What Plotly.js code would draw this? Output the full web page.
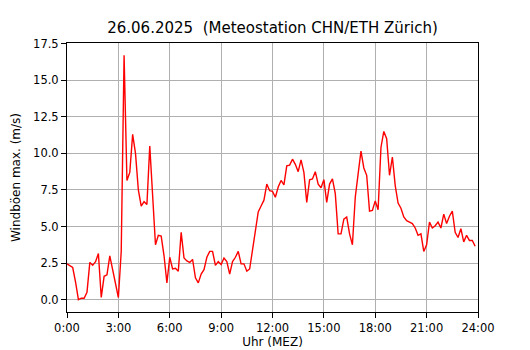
<!DOCTYPE html>
<html>
<head>
<meta charset="utf-8">
<script src="https://cdn.plot.ly/plotly-3.0.1.min.js"></script>
<style>html,body{margin:0;padding:0;background:#fff;}#chart{width:530px;height:350px;}</style>
</head>
<body>
<div id="chart"></div>
<script>
// 10-minute wind gust maxima (m/s), 00:00 .. 23:50
const gustValues = [
  2.45, 2.3, 2.2, 1.2, 0.0, 0.1, 0.1, 0.5, 2.55, 2.35, 2.6, 3.15,
  0.15, 1.6, 1.7, 3.0, 2.0, 0.9, 0.15, 3.3, 16.7, 8.15, 8.7, 11.3,
  10.0, 7.5, 6.4, 6.7, 6.5, 10.5, 7.0, 3.75, 4.4, 4.35, 3.0, 1.15,
  2.9, 2.1, 2.15, 1.95, 4.6, 2.85, 2.65, 2.55, 2.75, 1.5, 1.15, 1.75,
  2.05, 2.9, 3.3, 3.3, 2.35, 2.6, 2.4, 2.85, 2.6, 1.75, 2.6, 2.9,
  3.3, 2.45, 2.45, 1.95, 2.1, 3.4, 4.9, 6.0, 6.4, 6.8, 7.9, 7.45,
  7.4, 7.0, 7.7, 8.15, 7.85, 9.15, 9.2, 9.6, 9.25, 8.75, 9.55, 8.7,
  6.65, 8.2, 8.25, 8.75, 7.9, 7.65, 8.2, 6.65, 7.9, 8.25, 7.25, 4.5,
  4.5, 5.5, 5.65, 4.5, 3.75, 7.0, 8.6, 10.15, 9.0, 8.5, 6.05, 6.1,
  6.75, 6.15, 10.4, 11.5, 11.0, 8.5, 9.75, 7.8, 6.6, 6.25, 5.65, 5.4,
  5.3, 5.2, 4.9, 4.4, 4.5, 3.3, 3.75, 5.3, 4.9, 5.05, 5.3, 4.9,
  5.85, 5.2, 5.7, 6.05, 4.6, 4.25, 4.85, 3.95, 4.4, 4.05, 4.05, 3.65
];
const sampleMinutes = 10;
const xTickVals = [0, 3, 6, 9, 12, 15, 18, 21, 24];
const xTickText = ["0:00", "3:00", "6:00", "9:00", "12:00", "15:00", "18:00", "21:00", "24:00"];
const yTickVals = [0, 2.5, 5, 7.5, 10, 12.5, 15, 17.5];

// time in hours for each 10-minute sample
const hours = gustValues.map((_, i) => i * sampleMinutes / 60);

const font = "DejaVu Sans, Liberation Sans, sans-serif";

const trace = {
  x: hours,
  y: gustValues,
  type: "scatter",
  mode: "lines",
  line: {color: "#ff0000", width: 1.4},
  hoverinfo: "skip"
};

const axisCommon = {
  showline: true,
  mirror: true,
  linecolor: "#000",
  linewidth: 1,
  ticks: "outside",
  ticklen: 5,
  tickwidth: 1,
  tickcolor: "#000",
  showgrid: true,
  gridcolor: "#b0b0b0",
  gridwidth: 1,
  zeroline: false,
  tickfont: {family: font, size: 11.5, color: "#000"}
};

const layout = {
  width: 530,
  height: 350,
  margin: {l: 67, r: 52, t: 43, b: 38},
  paper_bgcolor: "#fff",
  plot_bgcolor: "#fff",
  showlegend: false,
  title: {
    text: "26.06.2025  (Meteostation CHN/ETH Zürich)",
    font: {family: font, size: 15, color: "#000"},
    xref: "paper", x: 0.5, xanchor: "center",
    yref: "container", y: 1 - 27.5 / 350, yanchor: "middle"
  },
  xaxis: Object.assign({}, axisCommon, {
    range: [0, 24],
    tickmode: "array",
    tickvals: xTickVals,
    ticktext: xTickText,
    title: {text: "Uhr (MEZ)", font: {family: font, size: 12, color: "#000"}, standoff: 3}
  }),
  yaxis: Object.assign({}, axisCommon, {
    range: [-0.84, 17.54],
    tickmode: "array",
    tickvals: yTickVals,
    ticktext: yTickVals.map(v => v.toFixed(1)),
    title: {text: "Windböen max. (m/s)", font: {family: font, size: 12, color: "#000"}, standoff: 9}
  })
};

Plotly.newPlot("chart", [trace], layout, {staticPlot: true, displayModeBar: false});
</script>
</body>
</html>
